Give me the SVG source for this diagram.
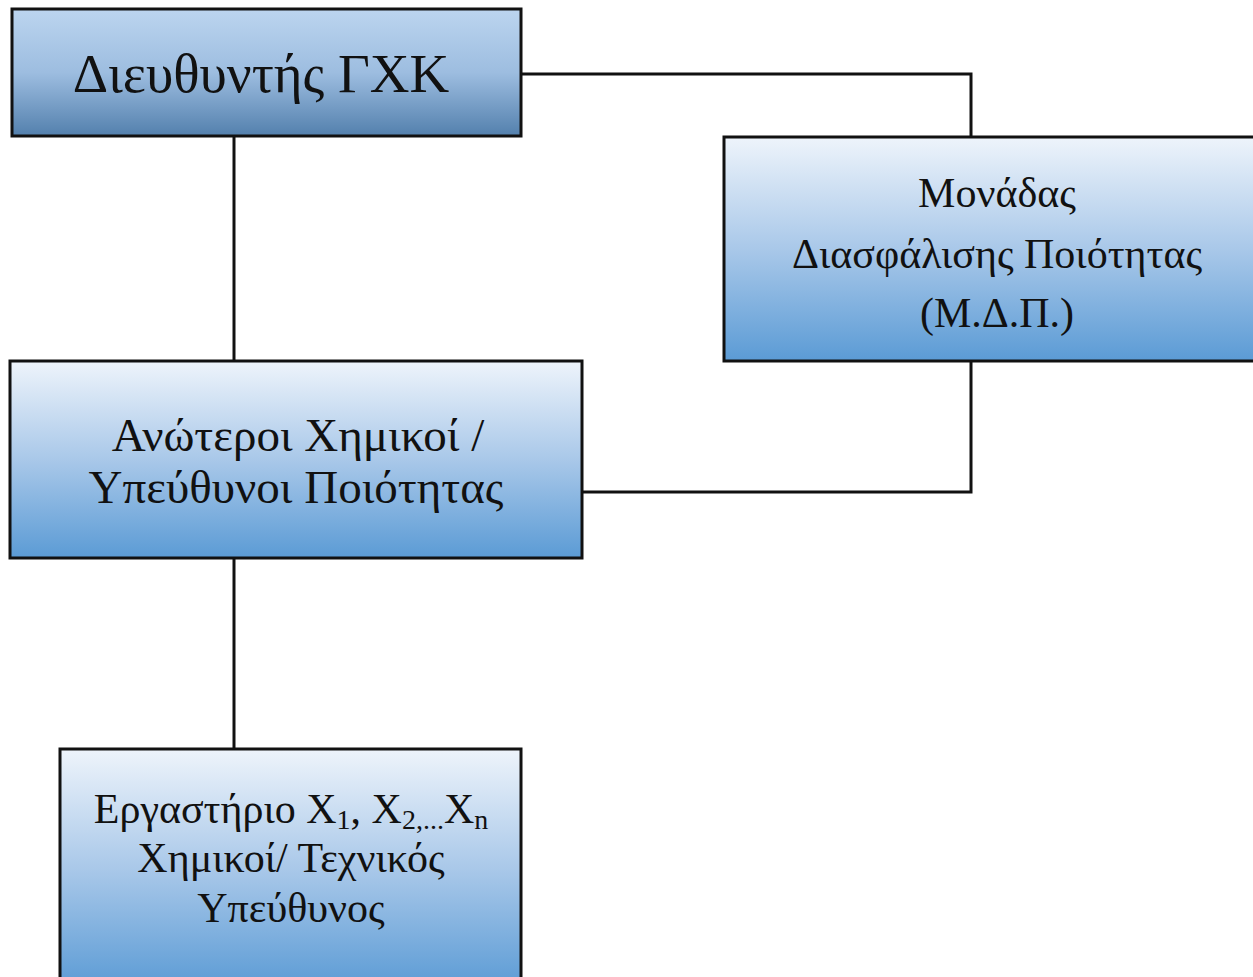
<svg xmlns="http://www.w3.org/2000/svg" width="1253" height="977" viewBox="0 0 1253 977">
<defs>
<linearGradient id="gTop" x1="0" y1="0" x2="0" y2="1">
<stop offset="0" stop-color="#bcd5ef"/>
<stop offset="0.5" stop-color="#9dbde0"/>
<stop offset="1" stop-color="#5380ad"/>
</linearGradient>
<linearGradient id="gBox" x1="0" y1="0" x2="0" y2="1">
<stop offset="0" stop-color="#eef4fb"/>
<stop offset="0.5" stop-color="#a9c8e9"/>
<stop offset="1" stop-color="#5b9bd5"/>
</linearGradient>
</defs>
<style>
.box{stroke:#111;stroke-width:3}
.con{fill:none;stroke:#111;stroke-width:3}
text{font-family:"Liberation Serif","Times New Roman",serif;fill:#111;text-anchor:middle}
.sub{font-size:28px}
</style>
<rect width="1253" height="977" fill="#fff"/>
<g id="connectors">
<polyline class="con" points="521,74 971,74 971,137"/>
<line class="con" x1="234" y1="136" x2="234" y2="361"/>
<polyline class="con" points="971,361 971,492 582,492"/>
<line class="con" x1="234" y1="558" x2="234" y2="749"/>
</g>
<g id="director">
<rect class="box" x="12" y="9" width="509" height="127" fill="url(#gTop)"/>
<text x="261" y="92" font-size="55">Διευθυντής ΓΧΚ</text>
</g>
<g id="qa-unit">
<rect class="box" x="724" y="137" width="535" height="224" fill="url(#gBox)"/>
<text x="997" y="207" font-size="42">Μονάδας</text>
<text x="997" y="268" font-size="42">Διασφάλισης Ποιότητας</text>
<text x="997" y="327" font-size="42">(Μ.Δ.Π.)</text>
</g>
<g id="senior-chemists">
<rect class="box" x="10" y="361" width="572" height="197" fill="url(#gBox)"/>
<text x="298" y="451" font-size="47">Ανώτεροι Χημικοί /</text>
<text x="296" y="503" font-size="47">Υπεύθυνοι Ποιότητας</text>
</g>
<g id="laboratory">
<rect class="box" x="60" y="749" width="461" height="240" fill="url(#gBox)"/>
<text x="291" y="823" font-size="42">Εργαστήριο X<tspan class="sub" dy="6">1</tspan><tspan dy="-6">, X</tspan><tspan class="sub" dy="6">2,...</tspan><tspan dy="-6">X</tspan><tspan class="sub" dy="6">n</tspan></text>
<text x="291" y="872" font-size="42">Χημικοί/ Τεχνικός</text>
<text x="291" y="922" font-size="42">Υπεύθυνος</text>
</g>
</svg>
